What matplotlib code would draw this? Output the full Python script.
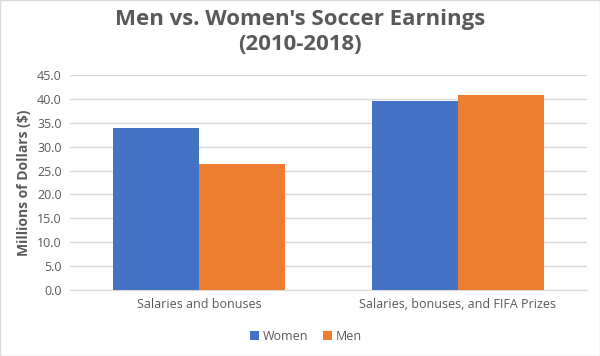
import numpy as np
import matplotlib.pyplot as plt
from matplotlib.patches import Rectangle

# Daten
categories = ["Salaries and bonuses", "Salaries, bonuses, and FIFA Prizes"]
women = [34.0, 39.6]
men = [26.3, 40.9]

grey = "#595959"
plt.rcParams['font.family'] = ['Open Sans', 'DejaVu Sans']

fig = plt.figure(figsize=(6.0, 3.56), dpi=100)
ax = fig.add_axes([0.1167, 0.1854, 0.8616, 0.6039])

x = np.arange(len(categories))
w = 1 / 3
ax.bar(x - w / 2, women, w, color="#4472c4", label="Women", zorder=3)
ax.bar(x + w / 2, men, w, color="#ed7d31", label="Men", zorder=3)

ax.set_xlim(-0.5, 1.5)
ax.set_ylim(0, 45)
ax.set_yticks(np.arange(0, 46, 5))
ax.set_yticklabels([f"{v:.1f}" for v in np.arange(0, 46, 5)])
ax.set_xticks(x)
ax.set_xticklabels(categories)
ax.tick_params(colors=grey, labelsize=9, length=0, pad=6)
ax.grid(axis="y", color="#d9d9d9", linewidth=1, zorder=0)
for s in ["top", "right", "left"]:
    ax.spines[s].set_visible(False)
ax.spines["bottom"].set_color("#d9d9d9")

ax.set_ylabel("Millions of Dollars ($)", color=grey, fontsize=10,
              fontweight="bold", labelpad=4)

fig.suptitle("Men vs. Women's Soccer Earnings\n(2010-2018)", color=grey,
             fontsize=16, fontweight="bold", y=0.975, linespacing=1.25)

fig.legend(loc="lower center", bbox_to_anchor=(0.51, 0.005), ncol=2,
           frameon=False, fontsize=9, labelcolor=grey, handlelength=0.7,
           handleheight=0.7, handletextpad=0.3, columnspacing=1.2)

fig.patches.append(Rectangle((0, 0), 1, 1, transform=fig.transFigure,
                             fill=False, edgecolor="#d9d9d9", linewidth=1))

fig.savefig("out.png", dpi=100)
